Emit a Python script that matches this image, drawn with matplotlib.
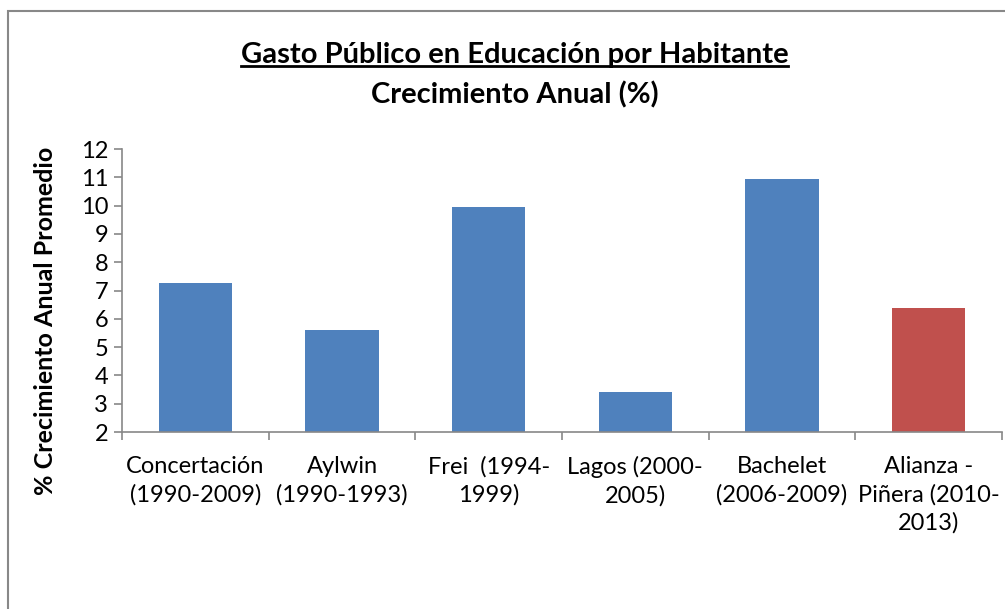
import matplotlib.pyplot as plt
from matplotlib.patches import Rectangle

categorias = ["Concertación\n(1990-2009)", "Aylwin\n(1990-1993)", "Frei  (1994-\n1999)",
              "Lagos (2000-\n2005)", "Bachelet\n(2006-2009)", "Alianza -\nPiñera (2010-\n2013)"]
valores = [7.28, 5.6, 9.96, 3.42, 10.93, 6.38]
colores = ["#4F81BD", "#4F81BD", "#4F81BD", "#4F81BD", "#4F81BD", "#C0504D"]

plt.rcParams['font.family'] = ['Lato', 'DejaVu Sans']

fig = plt.figure(figsize=(10.05, 6.09), dpi=100)
ax = fig.add_axes([0.1214, 0.2906, 0.8756, 0.4647])

x = list(range(len(valores)))
ax.bar(x, [v - 2 for v in valores], bottom=2, width=0.5, color=colores)

ax.set_xlim(-0.5, len(valores) - 0.5)
ax.set_ylim(2, 12)
ax.set_yticks(range(2, 13))
ax.tick_params(axis='y', labelsize=17, length=6, color='#888888', width=1.2, pad=4)
ax.set_xticks([i - 0.5 for i in range(len(valores) + 1)])
ax.set_xticklabels([])
ax.tick_params(axis='x', length=6, color='#888888', width=1.2)
for i, lab in enumerate(categorias):
    ax.text(i, -0.085, lab, transform=ax.get_xaxis_transform(), ha='center', va='top',
            fontsize=17, linespacing=1.38)

for s in ['top', 'right']:
    ax.spines[s].set_visible(False)
for s in ['left', 'bottom']:
    ax.spines[s].set_color('#888888')
    ax.spines[s].set_linewidth(1.2)

t1 = fig.text(0.512, 1 - 55 / 609, "Gasto Público en Educación por Habitante", ha='center', va='center',
              fontsize=21, fontweight='bold')
fig.text(0.512, 1 - 95 / 609, "Crecimiento Anual (%)", ha='center', va='center',
         fontsize=21, fontweight='bold')

# subrayado del título
fig.canvas.draw()
bb = t1.get_window_extent().transformed(fig.transFigure.inverted())
fig.add_artist(plt.Line2D([bb.x0, bb.x1], [bb.y0 + 0.004, bb.y0 + 0.004], color='black', lw=2))

fig.text(0.045, 1 - 321 / 609, "% Crecimiento Anual Promedio", rotation=90, ha='center', va='center',
         fontsize=18, fontweight='bold')

fig.add_artist(Rectangle((8 / 1005, -0.1), 1.2, 1.1 - 11 / 609, transform=fig.transFigure,
                         fill=False, edgecolor='#888888', lw=1.5))

fig.savefig("out.png", dpi=100)
